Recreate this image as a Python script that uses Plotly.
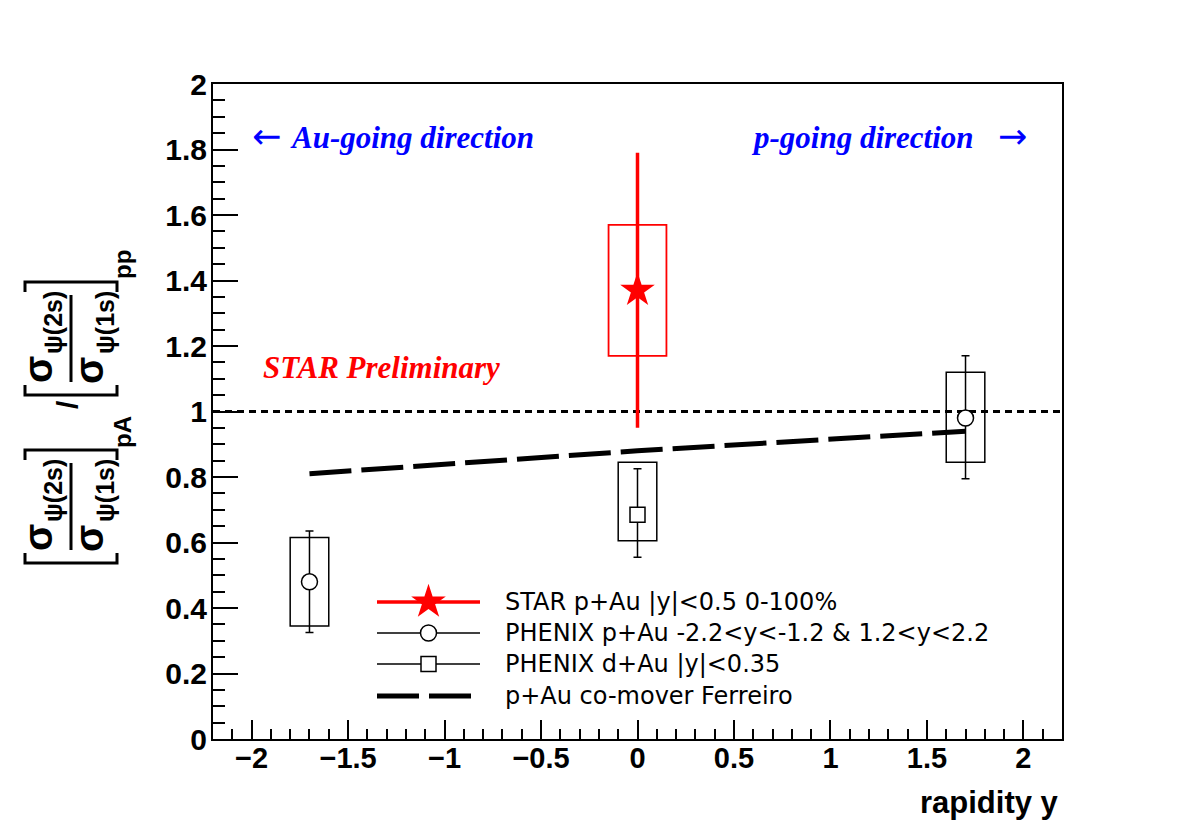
import plotly.graph_objects as go

# ---------------- data ----------------
star_x = [0.0]
star_y = [1.37]
star_stat = [0.42]
star_sys = [0.20]
star_box_hw = 0.15

pau_x = [-1.7, 1.7]
pau_y = [0.48, 0.98]
pau_stat_up = [0.155, 0.19]
pau_stat_dn = [0.155, 0.185]
pau_sys_up = [0.135, 0.14]
pau_sys_dn = [0.135, 0.135]

dau_x = [0.0]
dau_y = [0.685]
dau_stat_up = [0.14]
dau_stat_dn = [0.13]
dau_sys_up = [0.16]
dau_sys_dn = [0.08]
phenix_box_hw = 0.1

comover_x = [-1.7, 0.0, 1.7]
comover_y = [0.81, 0.88, 0.94]

x_range = [-2.2, 2.2]
y_range = [0.0, 2.0]

legend_labels = [
    "STAR p+Au |y|<0.5 0-100%",
    "PHENIX p+Au -2.2<y<-1.2 & 1.2<y<2.2",
    "PHENIX d+Au |y|<0.35",
    "p+Au co-mover Ferreiro",
]

# ---------------- layout helpers ----------------
W, H = 1182, 838
L, R, T, B = 213, 120, 84, 99
PW, PH = W - L - R, H - T - B


def px(xp):
    return (xp - L) / PW


def py(yp):
    return (H - B - yp) / PH


SANS = "Liberation Sans"
SERIF = "Liberation Serif"

fig = go.Figure()

# co-mover curve
fig.add_trace(go.Scatter(
    x=comover_x, y=comover_y, mode="lines",
    line=dict(color="black", width=5, dash="42px,10px"),
    showlegend=False, hoverinfo="skip"))

# STAR point
fig.add_trace(go.Scatter(
    x=star_x, y=star_y, mode="markers",
    marker=dict(symbol="star", size=26, color="red", line=dict(width=0)),
    error_y=dict(type="data", array=star_stat, symmetric=True,
                 color="red", thickness=3.5, width=0),
    showlegend=False))

# PHENIX p+Au
fig.add_trace(go.Scatter(
    x=pau_x, y=pau_y, mode="markers",
    marker=dict(symbol="circle", size=16, color="white",
                line=dict(color="black", width=1.5)),
    error_y=dict(type="data", array=pau_stat_up, arrayminus=pau_stat_dn,
                 symmetric=False, color="black", thickness=1.5, width=4),
    showlegend=False))

# PHENIX d+Au
fig.add_trace(go.Scatter(
    x=dau_x, y=dau_y, mode="markers",
    marker=dict(symbol="square", size=15, color="white",
                line=dict(color="black", width=1.5)),
    error_y=dict(type="data", array=dau_stat_up, arrayminus=dau_stat_dn,
                 symmetric=False, color="black", thickness=1.5, width=4),
    showlegend=False))

shapes = []
# systematic boxes
for x, y, s in zip(star_x, star_y, star_sys):
    shapes.append(dict(type="rect", xref="x", yref="y",
                       x0=x - star_box_hw, x1=x + star_box_hw,
                       y0=y - s, y1=y + s,
                       line=dict(color="red", width=1.8),
                       fillcolor="rgba(0,0,0,0)", layer="below"))
for x, y, su, sd in zip(pau_x, pau_y, pau_sys_up, pau_sys_dn):
    shapes.append(dict(type="rect", xref="x", yref="y",
                       x0=x - phenix_box_hw, x1=x + phenix_box_hw,
                       y0=y - sd, y1=y + su,
                       line=dict(color="black", width=1.5),
                       fillcolor="rgba(0,0,0,0)", layer="below"))
for x, y, su, sd in zip(dau_x, dau_y, dau_sys_up, dau_sys_dn):
    shapes.append(dict(type="rect", xref="x", yref="y",
                       x0=x - phenix_box_hw, x1=x + phenix_box_hw,
                       y0=y - sd, y1=y + su,
                       line=dict(color="black", width=1.5),
                       fillcolor="rgba(0,0,0,0)", layer="below"))
# reference line at 1
shapes.append(dict(type="line", xref="paper", yref="y", x0=0, x1=1, y0=1, y1=1,
                   line=dict(color="black", width=3, dash="7px,5px"),
                   layer="below"))

# ---------------- manual legend (overlay axes) ----------------
rows = [602, 633, 664, 696]
lx0, lx1, lxm = px(377), px(480), px(428.5)
leg_styles = [
    dict(line=dict(color="red", width=3.5),
         marker=dict(symbol="star", size=26, color="red", line=dict(width=0))),
    dict(line=dict(color="black", width=1.5),
         marker=dict(symbol="circle", size=16, color="white", line=dict(color="black", width=1.5))),
    dict(line=dict(color="black", width=1.5),
         marker=dict(symbol="square", size=15, color="white", line=dict(color="black", width=1.5))),
    dict(line=dict(color="black", width=5, dash="42px,10px"), marker=None),
]
annotations = []
for ry, st, lab in zip(rows, leg_styles, legend_labels):
    fig.add_trace(go.Scatter(x=[lx0, lx1], y=[py(ry), py(ry)], mode="lines",
                             line=st["line"], xaxis="x2", yaxis="y2",
                             showlegend=False, hoverinfo="skip"))
    if st["marker"] is not None:
        fig.add_trace(go.Scatter(x=[lxm], y=[py(ry)], mode="markers",
                                 marker=st["marker"], xaxis="x2", yaxis="y2",
                                 showlegend=False, hoverinfo="skip"))
    annotations.append(dict(xref="paper", yref="paper", x=px(503), y=py(ry),
                            xanchor="left", yanchor="middle", showarrow=False,
                            text=lab, font=dict(family="DejaVu Sans", size=24, color="black")))

# ---------------- text annotations ----------------
def txt(xp, yp, text, family, size, color, anchor="left"):
    annotations.append(dict(xref="paper", yref="paper", x=px(xp), y=py(yp),
                            xanchor=anchor, yanchor="middle", showarrow=False,
                            text=text, font=dict(family=family, size=size, color=color)))


txt(250, 136, "\u2190", "DejaVu Sans", 35, "blue")
txt(288, 137, "<b><i>Au-going direction</i></b>", SERIF, 31, "blue")
txt(749, 137, "<b><i>p-going direction</i></b>", SERIF, 31, "blue")
txt(996, 136, "\u2192", "DejaVu Sans", 35, "blue")
txt(261, 367, "<b><i>STAR Preliminary</i></b>", SERIF, 31, "red")
# x title
txt(1061, 802, "<b>rapidity y</b>", SANS, 31, "black", anchor="right")


# y title built from pieces (rotated)
def rot(xp, yp, text, size, bold=True):
    t = "<b>%s</b>" % text if bold else text
    annotations.append(dict(xref="paper", yref="paper", x=px(xp), y=py(yp),
                            xanchor="center", yanchor="middle", showarrow=False,
                            textangle=-90, text=t,
                            font=dict(family=SANS, size=size, color="black")))


for dy, tag, tagy in [(0, "pA", 432), (-168, "pp", 265)]:
    rot(38, 538 + dy, "\u03c3", 40)
    rot(53, 491 + dy, "\u03c8(2s)", 25)
    rot(89, 538 + dy, "\u03c3", 40)
    rot(105, 491 + dy, "\u03c8(1s)", 25)
    rot(122, tagy, tag, 24)
    # fraction bar
    shapes.append(dict(type="line", xref="paper", yref="paper",
                       x0=px(71), x1=px(71), y0=py(463 + dy), y1=py(550 + dy),
                       line=dict(color="black", width=3)))
    # brackets
    for yb, hook in [(563 + dy, -10), (450 + dy, 10)]:
        shapes.append(dict(type="path", xref="paper", yref="paper",
                           path="M %f %f L %f %f L %f %f L %f %f" % (
                               px(25), py(yb + hook), px(25), py(yb),
                               px(117), py(yb), px(117), py(yb + hook)),
                           line=dict(color="black", width=3)))
rot(67, 405, "/", 30)

axis_common = dict(showgrid=False, zeroline=False, showline=True, linecolor="black",
                   linewidth=2, mirror=True, ticks="inside", tickcolor="black",
                   tickwidth=1.5)

fig.update_layout(
    width=W, height=H,
    margin=dict(l=L, r=R, t=T, b=B, pad=0),
    paper_bgcolor="white", plot_bgcolor="white",
    showlegend=False,
    xaxis=dict(range=x_range, dtick=0.5, tick0=0, ticklen=19,
               minor=dict(dtick=0.1, ticklen=10, ticks="inside", tickcolor="black", tickwidth=1.5),
               tickfont=dict(family=SANS, size=29, color="black", weight="bold"),
               ticklabelstandoff=-8, **axis_common),
    yaxis=dict(range=y_range, dtick=0.2, tick0=0, ticklen=25,
               minor=dict(dtick=0.05, ticklen=12, ticks="inside", tickcolor="black", tickwidth=1.5),
               tickfont=dict(family=SANS, size=30, color="black", weight="bold"),
               ticklabelstandoff=-2, **axis_common),
    xaxis2=dict(range=[0, 1], domain=[0, 1], overlaying="x", visible=False, fixedrange=True),
    yaxis2=dict(range=[0, 1], domain=[0, 1], overlaying="y", visible=False, fixedrange=True),
    shapes=shapes,
    annotations=annotations,
)

fig.write_html("out.html")
